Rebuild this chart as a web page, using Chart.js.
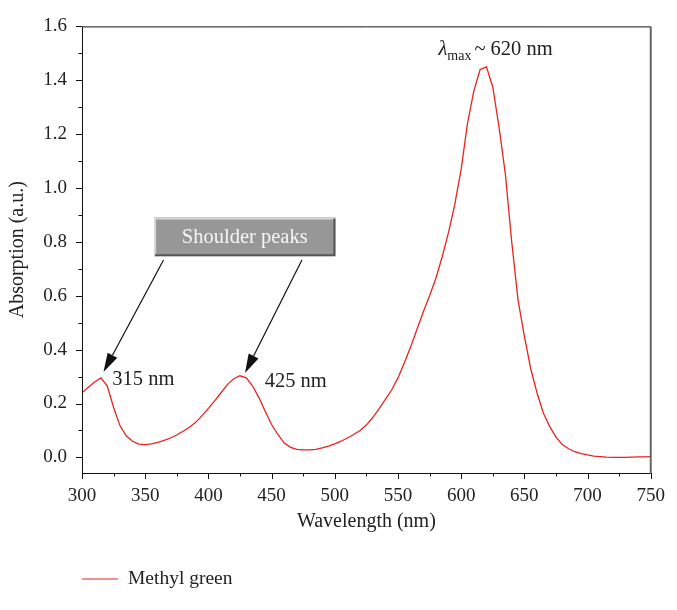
<!DOCTYPE html>
<html>
<head>
<meta charset="utf-8">
<script src="https://cdn.jsdelivr.net/npm/chart.js@4.4.1/dist/chart.umd.min.js"></script>
<style>
  html, body { margin: 0; padding: 0; background: #fff; }
  #wrap { width: 677px; height: 610px; position: relative; }
</style>
</head>
<body>
<div id="wrap"><canvas id="spectrum"></canvas></div>
<script>
const wavelengths = [
  300, 305, 310, 315, 320, 325, 330, 335, 340, 345,
  350, 355, 360, 365, 370, 375, 380, 385, 390, 395,
  400, 405, 410, 415, 420, 425, 430, 435, 440, 445,
  450, 455, 460, 465, 470, 475, 480, 485, 490, 495,
  500, 505, 510, 515, 520, 525, 530, 535, 540, 545,
  550, 555, 560, 565, 570, 575, 580, 585, 590, 595,
  600, 605, 610, 615, 620, 625, 630, 635, 640, 645,
  650, 655, 660, 665, 670, 675, 680, 685, 690, 695,
  700, 705, 710, 715, 720, 725, 730, 735, 740, 745, 750
];

const methylGreen = [
  0.240, 0.260, 0.280, 0.295, 0.265, 0.185, 0.118, 0.080, 0.060, 0.049,
  0.047, 0.050, 0.056, 0.063, 0.072, 0.083, 0.097, 0.112, 0.130, 0.155,
  0.182, 0.210, 0.240, 0.270, 0.292, 0.303, 0.295, 0.265, 0.222, 0.170,
  0.122, 0.085, 0.053, 0.037, 0.030, 0.028, 0.028, 0.030, 0.035, 0.042,
  0.050, 0.060, 0.072, 0.085, 0.100, 0.120, 0.148, 0.180, 0.215, 0.250,
  0.295, 0.350, 0.410, 0.475, 0.540, 0.600, 0.665, 0.745, 0.835, 0.940,
  1.070, 1.240, 1.360, 1.440, 1.450, 1.375, 1.225, 1.050, 0.800, 0.585,
  0.450, 0.330, 0.240, 0.165, 0.115, 0.075, 0.048, 0.032, 0.021, 0.014,
  0.009, 0.005, 0.003, 0.001, 0.000, 0.000, 0.000, 0.001, 0.002, 0.002, 0.003
];

const xTicks = [300, 350, 400, 450, 500, 550, 600, 650, 700, 750];
const yTicks = [0.0, 0.2, 0.4, 0.6, 0.8, 1.0, 1.2, 1.4, 1.6];

const seriesLabel = 'Methyl green';
const peakLabels = ['315 nm', '425 nm'];
const calloutText = 'Shoulder peaks';

const serif = '"Liberation Serif", "DejaVu Serif", serif';
const lineColor = '#e8241c';

// frame, ticks, callout box, arrows and the legend
const decorations = {
  id: 'decorations',
  afterDraw(chart) {
    const ctx = chart.ctx;
    const xs = chart.scales.x;
    const ys = chart.scales.y;
    const area = chart.chartArea;
    const px = v => xs.getPixelForValue(v);
    const py = v => ys.getPixelForValue(v);

    ctx.save();

    // frame
    ctx.lineWidth = 1;
    ctx.strokeStyle = '#111';
    ctx.beginPath();
    ctx.moveTo(area.left + 0.5, area.top + 0.5);
    ctx.lineTo(area.left + 0.5, area.bottom + 0.5);
    ctx.lineTo(area.right, area.bottom + 0.5);
    ctx.moveTo(area.left, area.top + 0.5);
    ctx.lineTo(area.right, area.top + 0.5);
    ctx.stroke();
    ctx.strokeStyle = '#666';
    ctx.lineWidth = 2;
    ctx.beginPath();
    ctx.moveTo(area.right, area.top);
    ctx.lineTo(area.right, area.bottom + 1);
    ctx.stroke();

    // ticks
    ctx.strokeStyle = '#111';
    ctx.lineWidth = 1;
    ctx.beginPath();
    for (let v = 0; v <= 1.6001; v += 0.1) {
      const y = Math.round(py(v)) + 0.5;
      const major = Math.round(v * 10) % 2 === 0;
      ctx.moveTo(area.left, y);
      ctx.lineTo(area.left - (major ? 6 : 3.5), y);
    }
    for (let v = 300; v <= 750; v += 25) {
      const x = Math.round(px(v)) + 0.5;
      const major = v % 50 === 0;
      ctx.moveTo(x, area.bottom);
      ctx.lineTo(x, area.bottom + (major ? 6 : 3.5));
    }
    ctx.stroke();

    // callout box
    const bx0 = px(357), bx1 = px(500.5);
    const by0 = py(0.891), by1 = py(0.747);
    ctx.fillStyle = '#979797';
    ctx.fillRect(bx0, by0, bx1 - bx0, by1 - by0);
    ctx.lineWidth = 2;
    ctx.strokeStyle = '#d8d8d8';
    ctx.beginPath();
    ctx.moveTo(bx0 + 1, by1);
    ctx.lineTo(bx0 + 1, by0 + 1);
    ctx.lineTo(bx1, by0 + 1);
    ctx.stroke();
    ctx.strokeStyle = '#555';
    ctx.beginPath();
    ctx.moveTo(bx0 + 1, by1 - 1);
    ctx.lineTo(bx1 - 1, by1 - 1);
    ctx.lineTo(bx1 - 1, by0 + 1);
    ctx.stroke();
    ctx.fillStyle = '#f6f6f6';
    ctx.font = '20.5px ' + serif;
    ctx.textAlign = 'center';
    ctx.textBaseline = 'middle';
    ctx.fillText(calloutText, (bx0 + bx1) / 2, (by0 + by1) / 2 + 1);

    // arrows
    drawArrow(ctx, px(364.5), py(0.733), px(317), py(0.317));
    drawArrow(ctx, px(474), py(0.733), px(429), py(0.313));

    // peak labels
    ctx.fillStyle = '#222';
    ctx.font = '20.5px ' + serif;
    ctx.textAlign = 'left';
    ctx.textBaseline = 'alphabetic';
    ctx.fillText(peakLabels[0], px(324), py(0.268));
    ctx.fillText(peakLabels[1], px(444.5), py(0.262));

    // lambda max label
    let x = px(582);
    const base = py(1.495);
    ctx.font = 'italic 20.5px ' + serif;
    ctx.fillText('\u03bb', x, base);
    x += ctx.measureText('\u03bb').width;
    ctx.font = '14px ' + serif;
    ctx.fillText('max', x, base + 5);
    x += ctx.measureText('max').width + 3;
    ctx.font = '20.5px ' + serif;
    ctx.fillText('~ 620 nm', x, base);

    // legend
    const ly = 579;
    ctx.strokeStyle = chart.data.datasets[0].borderColor;
    ctx.lineWidth = 1.2;
    ctx.beginPath();
    ctx.moveTo(82, ly);
    ctx.lineTo(118, ly);
    ctx.stroke();
    ctx.fillStyle = '#222';
    ctx.font = '19.5px ' + serif;
    ctx.textBaseline = 'middle';
    ctx.fillText(chart.data.datasets[0].label, 128, ly);

    ctx.restore();
  }
};

function drawArrow(ctx, x0, y0, x1, y1) {
  const ang = Math.atan2(y1 - y0, x1 - x0);
  const headLen = 19;
  const headHalf = 5.5;
  const bx = x1 - headLen * Math.cos(ang);
  const by = y1 - headLen * Math.sin(ang);
  ctx.strokeStyle = '#111';
  ctx.lineWidth = 1.2;
  ctx.beginPath();
  ctx.moveTo(x0, y0);
  ctx.lineTo(bx, by);
  ctx.stroke();
  ctx.fillStyle = '#111';
  ctx.beginPath();
  ctx.moveTo(x1, y1);
  ctx.lineTo(bx + headHalf * Math.sin(ang), by - headHalf * Math.cos(ang));
  ctx.lineTo(bx - headHalf * Math.sin(ang), by + headHalf * Math.cos(ang));
  ctx.closePath();
  ctx.fill();
}

function createSpectrumChart(canvasId) {
  const ctx = document.getElementById(canvasId).getContext('2d');
  new Chart(ctx, {
    type: 'line',
    data: {
      datasets: [{
        label: seriesLabel,
        data: wavelengths.map((w, i) => ({ x: w, y: methylGreen[i] })),
        borderColor: lineColor,
        borderWidth: 1.3,
        pointRadius: 0,
        tension: 0,
        fill: false
      }]
    },
    options: {
      responsive: true,
      maintainAspectRatio: false,
      animation: false,
      layout: {
        padding: { top: 17, right: 15, left: 6, bottom: 76 }
      },
      scales: {
        x: {
          type: 'linear',
          min: 300,
          max: 750,
          afterBuildTicks: scale => {
            scale.ticks = xTicks.map(v => ({ value: v }));
          },
          afterFit: scale => { scale.height = 61; },
          grid: { display: false, drawTicks: false },
          border: { display: false },
          ticks: {
            padding: 12,
            color: '#222',
            font: { family: serif, size: 19 },
            maxRotation: 0
          },
          title: {
            display: true,
            text: 'Wavelength (nm)',
            color: '#222',
            font: { family: serif, size: 20 },
            padding: 0
          }
        },
        y: {
          min: -0.058,
          max: 1.6,
          afterBuildTicks: scale => {
            scale.ticks = yTicks.map(v => ({ value: v }));
          },
          afterFit: scale => { scale.width = 76; },
          grid: { display: false, drawTicks: false },
          border: { display: false },
          ticks: {
            padding: 15,
            color: '#222',
            font: { family: serif, size: 19 },
            callback: value => value.toFixed(1)
          },
          title: {
            display: true,
            text: 'Absorption (a.u.)',
            color: '#222',
            font: { family: serif, size: 20 },
            padding: 0
          }
        }
      },
      plugins: {
        legend: { display: false },
        tooltip: { enabled: false }
      }
    },
    plugins: [decorations]
  });
}

document.addEventListener('DOMContentLoaded', () => createSpectrumChart('spectrum'));
</script>
</body>
</html>
